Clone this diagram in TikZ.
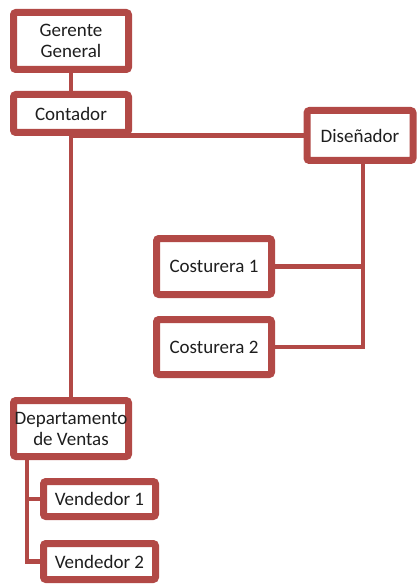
\documentclass[tikz,border=0pt]{standalone}
\usepackage{fontspec}
\setmainfont{Carlito}
\usetikzlibrary{shadows,backgrounds}
\definecolor{boxred}{RGB}{178,73,70}
\definecolor{txt}{RGB}{30,30,30}
\begin{document}
\begin{tikzpicture}[x=1pt,y=-1pt,
  orgbox/.style={draw=boxred, line width=7pt, fill=white, rounded corners=2.5pt,
    inner sep=0pt, align=center, text=txt, font=\fontsize{19}{21}\selectfont,
    drop shadow={opacity=0.35, shadow xshift=2pt, shadow yshift=-2.5pt}},
  link/.style={draw=boxred, line width=4.5pt}]
\useasboundingbox (0,0) rectangle (417,585);
\node[orgbox, minimum width=115pt, minimum height=57pt] (ger) at (71,41) {Gerente\\General};
\node[orgbox, minimum width=115pt, minimum height=38pt] (con) at (71,113.5) {Contador};
\node[orgbox, minimum width=106pt, minimum height=50pt] (dis) at (360,135.5) {Diseñador};
\node[orgbox, minimum width=115pt, minimum height=56pt] (c1) at (214,266.5) {Costurera 1};
\node[orgbox, minimum width=115pt, minimum height=55pt] (c2) at (214,347) {Costurera 2};
\node[orgbox, minimum width=115pt, minimum height=56pt] (dep) at (71,428.5) {Departamento\\de Ventas};
\node[orgbox, minimum width=112pt, minimum height=35pt] (v1) at (99.5,499) {Vendedor 1};
\node[orgbox, minimum width=112pt, minimum height=36pt] (v2) at (99.5,561.5) {Vendedor 2};
\coordinate (disd) at (363,150);
\coordinate (depd) at (27,440);
\begin{scope}[on background layer]
\draw[link] (ger) -- (con);
\draw[link] (con) |- (dis);
\draw[link] (con) -- (dep);
\draw[link] (dis.center -| disd) |- (c1);
\draw[link] (dis.center -| disd) |- (c2);
\draw[link] (dep.center -| depd) |- (v1);
\draw[link] (dep.center -| depd) |- (v2);
\end{scope}
\end{tikzpicture}
\end{document}
